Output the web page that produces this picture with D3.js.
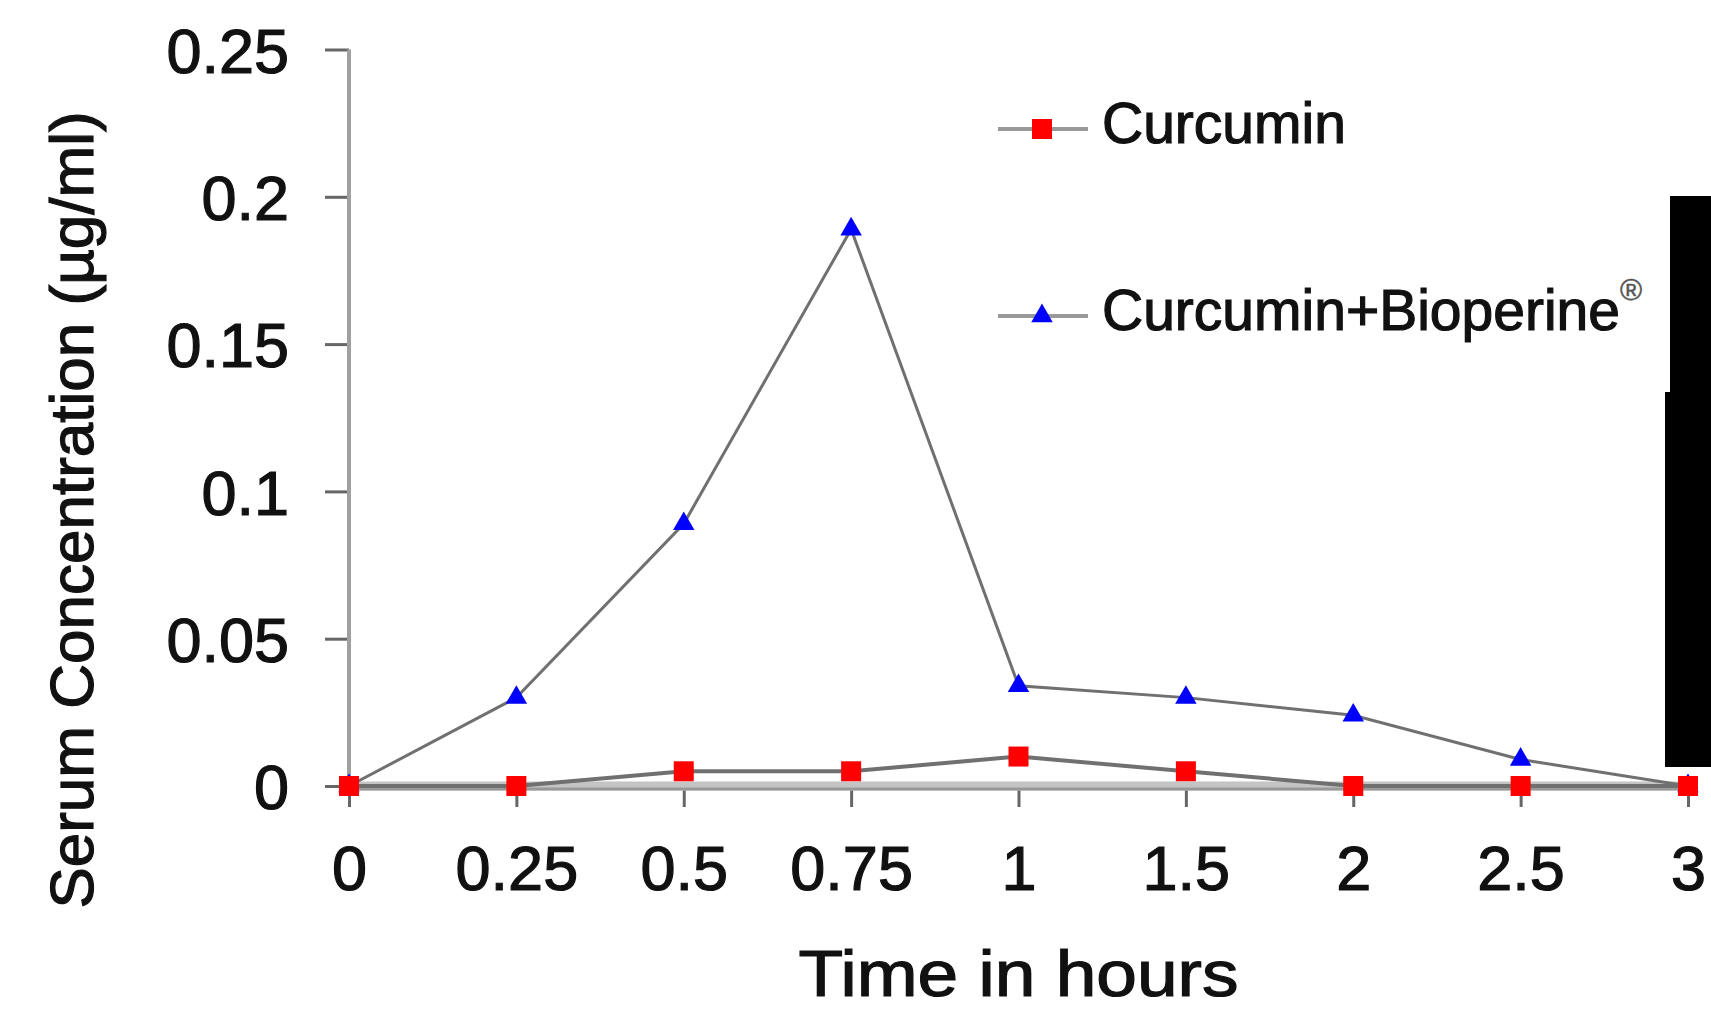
<!DOCTYPE html>
<html>
<head>
<meta charset="utf-8">
<script src="https://cdn.jsdelivr.net/npm/d3@7"></script>
<style>
  body { margin: 0; background: #fff; }
  text { font-family: "Liberation Sans", Arial, sans-serif; fill: #111; stroke: #111; stroke-width: 1.2px; }
</style>
</head>
<body>
<div id="chart"></div>
<script>
// Data
////////////////////////////////////////////////////////////////////
const times = ["0", "0.25", "0.5", "0.75", "1", "1.5", "2", "2.5", "3"];
const curcumin = [0, 0, 0.005, 0.005, 0.01, 0.005, 0, 0, 0];
const curcuminBioperine = [0, 0.03, 0.089, 0.189, 0.034, 0.03, 0.024, 0.009, 0];
const yTicks = [0, 0.05, 0.1, 0.15, 0.2, 0.25];
const seriesNames = ["Curcumin", "Curcumin+Bioperine"];

function draw() {
  // Dimensions
  ////////////////////////////////////////////////////////////////////
  let dimensions = {
    width: 1711,
    height: 1011,
    margin: { top: 49.5, bottom: 225, left: 349, right: 23 },
  };
  dimensions.ctrWidth =
    dimensions.width - dimensions.margin.left - dimensions.margin.right;
  dimensions.ctrHeight =
    dimensions.height - dimensions.margin.top - dimensions.margin.bottom;

  const svg = d3
    .select("#chart")
    .append("svg")
    .attr("width", dimensions.width)
    .attr("height", dimensions.height);

  const ctr = svg
    .append("g")
    .attr(
      "transform",
      `translate(${dimensions.margin.left}, ${dimensions.margin.top})`
    );

  // Scales
  ////////////////////////////////////////////////////////////////////
  const xScale = d3.scalePoint().domain(times).range([0, dimensions.ctrWidth]);
  const yScale = d3
    .scaleLinear()
    .domain([0, 0.25])
    .range([dimensions.ctrHeight, 0]);

  // Y axis
  ///////////////////////////////
  const yAxis = d3
    .axisLeft(yScale)
    .tickValues(yTicks)
    .tickSize(24)
    .tickPadding(36)
    .tickFormat((d) => d);

  const yAxisGroup = ctr.append("g").call(yAxis);
  yAxisGroup.select(".domain").remove();
  yAxisGroup.selectAll(".tick line").attr("stroke", "#666").attr("stroke-width", 3);
  yAxisGroup
    .selectAll(".tick text")
    .attr("font-size", 63)
    .attr("dy", "0.36em");

  ctr
    .append("line")
    .attr("x1", 0)
    .attr("x2", 0)
    .attr("y1", yScale(0.25))
    .attr("y2", yScale(0))
    .attr("stroke", "#a0a0a0")
    .attr("stroke-width", 4);

  // X axis
  ///////////////////////////////
  const xAxis = d3.axisBottom(xScale).tickSize(21).tickPadding(38);
  const xAxisGroup = ctr
    .append("g")
    .attr("transform", `translate(0,${dimensions.ctrHeight})`)
    .call(xAxis);
  xAxisGroup.select(".domain").remove();
  xAxisGroup.selectAll(".tick line").attr("stroke", "#666").attr("stroke-width", 3);
  xAxisGroup
    .selectAll(".tick text")
    .attr("font-size", 63)
    .attr("dy", "0.71em");

  // thick light band for the zero line
  ctr
    .append("line")
    .attr("x1", 0)
    .attr("x2", dimensions.ctrWidth)
    .attr("y1", yScale(0))
    .attr("y2", yScale(0))
    .attr("stroke", "#c4c4c4")
    .attr("stroke-width", 9);
  ctr
    .append("line")
    .attr("x1", 0)
    .attr("x2", dimensions.ctrWidth)
    .attr("y1", yScale(0) + 3)
    .attr("y2", yScale(0) + 3)
    .attr("stroke", "#999")
    .attr("stroke-width", 3);

  // Axis titles
  svg
    .append("text")
    .attr("x", dimensions.margin.left + xScale("1"))
    .attr("y", 996)
    .attr("text-anchor", "middle")
    .attr("font-size", 64)
    .attr("textLength", 440)
    .attr("lengthAdjust", "spacingAndGlyphs")
    .text("Time in hours");

  svg
    .append("text")
    .attr("transform", "translate(93, 510) rotate(-90)")
    .attr("text-anchor", "middle")
    .attr("font-size", 62)
    .text("Serum Concentration (\u00b5g/ml)");

  // Lines
  ////////////////////////////////////////////////////////////////////
  const line = d3
    .line()
    .x((d, i) => xScale(times[i]))
    .y((d) => yScale(d));

  ctr
    .append("path")
    .datum(curcuminBioperine)
    .attr("d", line)
    .attr("fill", "none")
    .attr("stroke", "#707070")
    .attr("stroke-width", 3);

  ctr
    .append("path")
    .datum(curcumin)
    .attr("d", line)
    .attr("fill", "none")
    .attr("stroke", "#707070")
    .attr("stroke-width", 4);

  // Markers
  const tri = d3.symbol().type(d3.symbolTriangle).size(200);

  ctr
    .selectAll(".tri")
    .data(curcuminBioperine)
    .join("path")
    .attr("class", "tri")
    .attr("d", tri)
    .attr("transform", (d, i) => `translate(${xScale(times[i])},${yScale(d)})`)
    .attr("fill", "#0000ff");

  ctr
    .selectAll(".sq")
    .data(curcumin)
    .join("rect")
    .attr("class", "sq")
    .attr("x", (d, i) => xScale(times[i]) - 10)
    .attr("y", (d) => yScale(d) - 10)
    .attr("width", 20)
    .attr("height", 20)
    .attr("fill", "#ff0000");

  // Legend
  ////////////////////////////////////////////////////////////////////
  const legend = svg.append("g").attr("transform", "translate(998, 0)");
  const rows = [129, 316];

  seriesNames.forEach((name, i) => {
    const g = legend.append("g").attr("transform", `translate(0,${rows[i]})`);
    g.append("line")
      .attr("x1", 0)
      .attr("x2", 90)
      .attr("stroke", "#999")
      .attr("stroke-width", 4);
    if (i === 0) {
      g.append("rect")
        .attr("x", 34)
        .attr("y", -10)
        .attr("width", 20)
        .attr("height", 20)
        .attr("fill", "#ff0000");
    } else {
      g.append("path")
        .attr("d", tri)
        .attr("transform", "translate(44,0)")
        .attr("fill", "#0000ff");
    }
    const t = g
      .append("text")
      .attr("x", 104)
      .attr("y", 14)
      .attr("font-size", 57)
      .text(name);
    if (i === 1) {
      t.append("tspan")
        .attr("font-size", 30)
        .attr("dy", -30)
        .attr("fill", "#555")
        .attr("stroke", "#555")
        .attr("stroke-width", 0.5)
        .text("\u00ae");
    }
  });

  // Black strip on the right edge of the picture
  svg
    .append("rect")
    .attr("x", 1670)
    .attr("y", 196)
    .attr("width", 41)
    .attr("height", 200)
    .attr("fill", "#000");
  svg
    .append("rect")
    .attr("x", 1665)
    .attr("y", 392)
    .attr("width", 46)
    .attr("height", 375)
    .attr("fill", "#000");
}

draw();
</script>
</body>
</html>
